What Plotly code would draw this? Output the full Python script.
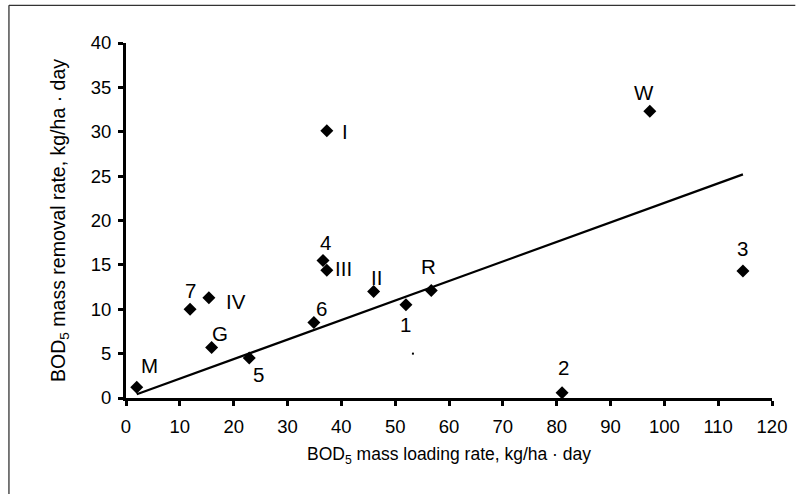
import plotly.graph_objects as go

# BOD5 mass loading vs. removal for each wetland system
site_labels = ["M", "7", "IV", "G", "5", "6", "4", "III", "II", "1", "R", "2", "3", "W", "I"]
loading_rate = [2.0, 11.9, 15.4, 15.9, 22.9, 34.9, 36.6, 37.3, 46.0, 52.0, 56.7, 81.0, 114.6, 97.3, 37.3]
removal_rate = [1.2, 10.0, 11.3, 5.7, 4.5, 8.5, 15.5, 14.4, 12.0, 10.5, 12.1, 0.6, 14.3, 32.3, 30.1]

# label offsets in pixels (right, down) relative to each point
label_dx = [13, 0, 27, 8, 9, 8, 2, 17, 3, 0, -3, 1, 0, -6, 18]
label_dy = [-22, -19, 4, -14, 16, -14, -18, -2, -14, 20, -24, -25, -23, -19, 1]

# linear trend line
trend_x = [2.0, 114.6]
trend_y = [0.42, 25.2]

# stray speck in the plot area
speck_x = [53.3]
speck_y = [5.0]

x_ticks = list(range(0, 121, 10))
y_ticks = list(range(0, 41, 5))

FONT = "Arial, 'Liberation Sans', sans-serif"

fig = go.Figure()
fig.add_trace(go.Scatter(
    x=trend_x, y=trend_y, mode="lines",
    line=dict(color="black", width=2.2), hoverinfo="skip", showlegend=False,
))
fig.add_trace(go.Scatter(
    x=loading_rate, y=removal_rate, mode="markers",
    marker=dict(symbol="diamond", size=10, color="black"),
    showlegend=False, cliponaxis=False,
))
fig.add_trace(go.Scatter(
    x=speck_x, y=speck_y, mode="markers",
    marker=dict(symbol="square", size=2, color="black"),
    showlegend=False,
))

for lab, xv, yv, dx, dy in zip(site_labels, loading_rate, removal_rate, label_dx, label_dy):
    fig.add_annotation(
        x=xv, y=yv, text=lab, showarrow=False,
        xshift=dx, yshift=-dy,
        font=dict(family=FONT, size=20.5, color="black"),
    )

W, H = 800, 494
ml, mr, mt, mb = 126, 28.3, 42.7, 96.3
pw, ph = W - ml - mr, H - mt - mb

# outer frame: top and left edges of the surrounding box
frame_left = (9 - ml) / pw
frame_right = (795 - ml) / pw
frame_top = 1 + (mt - 5) / ph
frame_bottom = -(H + 5 - (H - mb)) / ph
fig.add_shape(type="line", xref="paper", yref="paper",
              x0=frame_left, x1=frame_right, y0=frame_top, y1=frame_top,
              line=dict(color="#333333", width=1.3))
fig.add_shape(type="line", xref="paper", yref="paper",
              x0=frame_left, x1=frame_left, y0=frame_top, y1=frame_bottom,
              line=dict(color="#333333", width=1.3))

fig.update_layout(
    width=W, height=H,
    margin=dict(l=ml, r=mr, t=mt, b=mb, pad=0),
    paper_bgcolor="white", plot_bgcolor="white",
    font=dict(family=FONT, color="black"),
    xaxis=dict(
        range=[0, 120], tickvals=x_ticks, ticks="outside", ticklen=5, tickwidth=2.5,
        tickcolor="black", showline=True, linecolor="black", linewidth=3,
        showgrid=False, zeroline=False, tickfont=dict(size=18.5),
        ticklabelstandoff=5,
        title=dict(text="BOD<sub>5</sub> mass loading rate, kg/ha · day",
                   font=dict(size=17.5), standoff=12),
    ),
    yaxis=dict(
        range=[0, 40], tickvals=y_ticks, ticks="outside", ticklen=5, tickwidth=2.5,
        tickcolor="black", showline=True, linecolor="black", linewidth=3,
        showgrid=False, zeroline=False, tickfont=dict(size=18.5),
        ticklabelstandoff=3,
        title=dict(text="BOD<sub>5</sub> mass removal rate, kg/ha · day",
                   font=dict(size=19.5), standoff=20),
    ),
)

fig.write_html("out.html")
